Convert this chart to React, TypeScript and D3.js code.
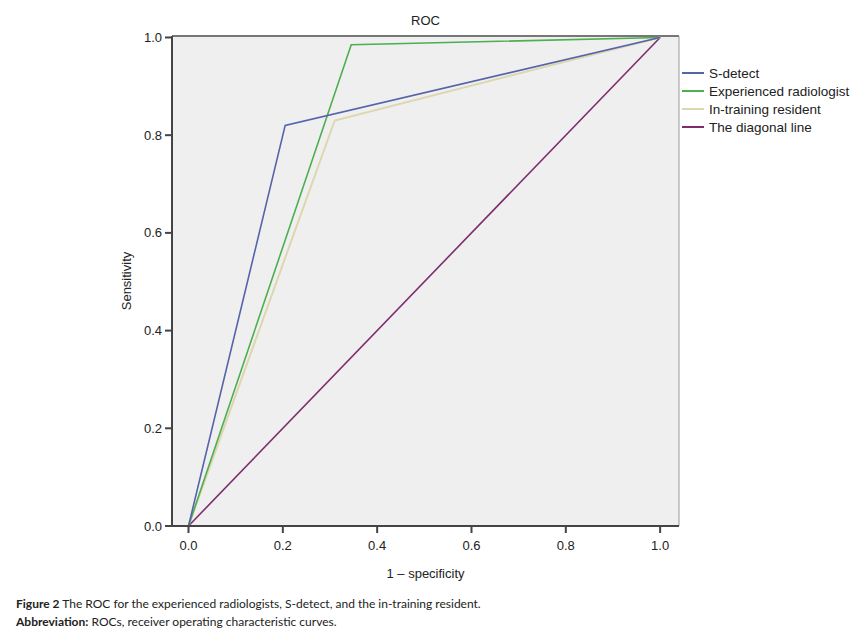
import * as d3 from 'd3'

const seriesNames = ['S-detect', 'Experienced radiologist', 'In-training resident', 'The diagonal line']
const seriesColors = ['#5563a8', '#4caf50', '#dcd7ae', '#7d2d6f']
const sDetect: [number, number][] = [[0, 0], [0.205, 0.82], [1, 1]]
const experienced: [number, number][] = [[0, 0], [0.345, 0.985], [1, 1]]
const inTraining: [number, number][] = [[0, 0], [0.31, 0.83], [1, 1]]
const diagonal: [number, number][] = [[0, 0], [1, 1]]
const tickValues = [0, 0.2, 0.4, 0.6, 0.8, 1.0]

export default function App() {
  const left = 172, top = 36, right = 679, bottom = 526
  const x = d3.scaleLinear().domain([-0.035, 1.04]).range([left, right])
  const y = d3.scaleLinear().domain([0, 1.003]).range([bottom, top])
  const line = d3.line<[number, number]>().x(d => x(d[0])).y(d => y(d[1]))
  const series = [sDetect, experienced, inTraining, diagonal]
  const font = '"Liberation Sans", Arial, sans-serif'

  return (
    <svg width={859} height={637} style={{ position: 'absolute', left: 0, top: 0, background: '#fff' }}>
      <rect x={left} y={top} width={right - left} height={bottom - top} fill="#f0eff0" />
      <line x1={left} x2={right} y1={top} y2={top} stroke="#777" strokeWidth={2} />
      <line x1={right} x2={right} y1={top} y2={bottom} stroke="#999" strokeWidth={1} />
      {/* draw order: diagonal first, then resident, experienced, s-detect */}
      {[3, 2, 1, 0].map(i => (
        <path key={i} d={line(series[i]) || ''} fill="none" stroke={seriesColors[i]} strokeWidth={i === 2 ? 2 : 1.6} />
      ))}
      <line x1={left} x2={left} y1={top} y2={bottom + 1} stroke="#444" strokeWidth={2} />
      <line x1={left - 1} x2={right} y1={bottom} y2={bottom} stroke="#444" strokeWidth={2} />
      {tickValues.map(t => (
        <g key={'y' + t}>
          <line x1={left - 7} x2={left} y1={y(t)} y2={y(t)} stroke="#444" strokeWidth={2} />
          <text x={left - 10} y={y(t)} dy="0.35em" textAnchor="end" fontFamily={font} fontSize={13} fill="#222">{t.toFixed(1)}</text>
        </g>
      ))}
      {tickValues.map(t => (
        <g key={'x' + t}>
          <line x1={x(t)} x2={x(t)} y1={bottom} y2={bottom + 7} stroke="#444" strokeWidth={2} />
          <text x={x(t)} y={bottom + 24} textAnchor="middle" fontFamily={font} fontSize={13} fill="#222">{t.toFixed(1)}</text>
        </g>
      ))}
      <text x={(left + right) / 2} y={25} textAnchor="middle" fontFamily={font} fontSize={13} fill="#222">ROC</text>
      <text x={(left + right) / 2} y={578} textAnchor="middle" fontFamily={font} fontSize={13} fill="#222">1 – specificity</text>
      <text transform={`translate(131,${(top + bottom) / 2}) rotate(-90)`} textAnchor="middle" fontFamily={font} fontSize={13} fill="#222">Sensitivity</text>
      {seriesNames.map((n, i) => (
        <g key={n} transform={`translate(682,${73 + i * 18})`}>
          <line x1={0} x2={22} y1={0} y2={0} stroke={seriesColors[i]} strokeWidth={2} />
          <text x={27} y={0} dy="0.35em" fontFamily={font} fontSize={13.5} fill="#222">{n}</text>
        </g>
      ))}
      <text x={16} y={608} fontFamily="Lato, sans-serif" fontSize={12} fill="#222">
        <tspan fontWeight="bold">Figure 2</tspan> The ROC for the experienced radiologists, S-detect, and the in-training resident.
      </text>
      <text x={16} y={626} fontFamily="Lato, sans-serif" fontSize={12} fill="#222">
        <tspan fontWeight="bold">Abbreviation:</tspan> ROCs, receiver operating characteristic curves.
      </text>
    </svg>
  )
}
